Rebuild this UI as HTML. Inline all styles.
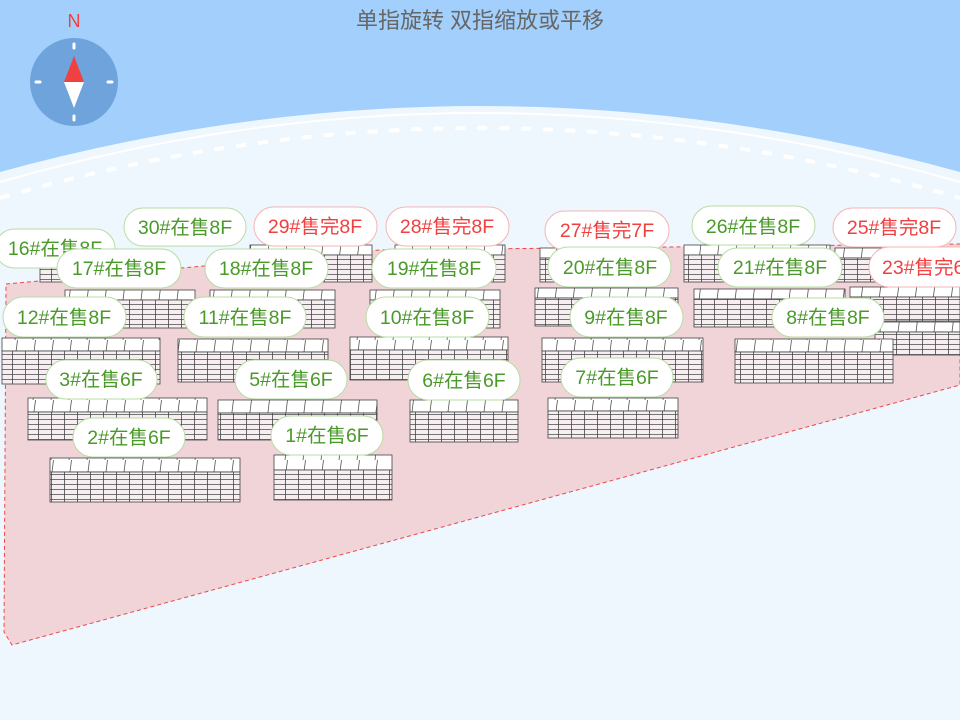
<!DOCTYPE html>
<html><head><meta charset="utf-8"><style>
html,body{margin:0;padding:0;width:960px;height:720px;overflow:hidden;background:#eef6fe}
svg{display:block}
text{font-family:"Liberation Sans","Noto Sans CJK SC",sans-serif}
</style></head><body>
<svg width="960" height="720" viewBox="0 0 960 720" xmlns="http://www.w3.org/2000/svg">
<defs>
<pattern id="fac" width="13" height="5" patternUnits="userSpaceOnUse">
<rect width="13" height="5" fill="#f6eef0"/>
<line x1="0" y1="4.5" x2="13" y2="4.5" stroke="#555" stroke-width="0.8"/>
<line x1="12.5" y1="0" x2="12.5" y2="5" stroke="#444" stroke-width="0.8"/>
</pattern>
<pattern id="top" width="18" height="20" patternUnits="userSpaceOnUse">
<rect width="18" height="20" fill="#fff"/>
<line x1="17.5" y1="0" x2="15" y2="20" stroke="#555" stroke-width="0.8"/>
</pattern>
</defs>
<rect width="960" height="720" fill="#eef6fe"/>
<path d="M0,0 H960 V172 Q480,40 0,172 Z" fill="#a2cffb"/>
<path d="M0,182 Q480,44 960,182" fill="none" stroke="#fff" stroke-width="2"/>
<path d="M0,198 Q480,58 960,198" fill="none" stroke="#fff" stroke-width="4" stroke-dasharray="10,12"/>
<polygon points="6,284 380,250 960,244 960,385 12,645 4,632" fill="#f0d4d8" stroke="#f04848" stroke-width="1" stroke-dasharray="4,3"/>
<g stroke="#444" stroke-width="0.8">
<rect x="40" y="245" width="70" height="10" fill="url(#top)"/><rect x="40" y="255" width="70" height="27" fill="url(#fac)"/>
<rect x="250" y="245" width="122" height="10" fill="url(#top)"/><rect x="250" y="255" width="122" height="27" fill="url(#fac)"/>
<rect x="395" y="245" width="110" height="10" fill="url(#top)"/><rect x="395" y="255" width="110" height="27" fill="url(#fac)"/>
<rect x="540" y="248" width="80" height="10" fill="url(#top)"/><rect x="540" y="258" width="80" height="24" fill="url(#fac)"/>
<rect x="684" y="245" width="146" height="10" fill="url(#top)"/><rect x="684" y="255" width="146" height="27" fill="url(#fac)"/>
<rect x="835" y="248" width="125" height="10" fill="url(#top)"/><rect x="835" y="258" width="125" height="24" fill="url(#fac)"/>
<rect x="65" y="290" width="130" height="10" fill="url(#top)"/><rect x="65" y="300" width="130" height="28" fill="url(#fac)"/>
<rect x="210" y="290" width="125" height="10" fill="url(#top)"/><rect x="210" y="300" width="125" height="28" fill="url(#fac)"/>
<rect x="370" y="290" width="130" height="10" fill="url(#top)"/><rect x="370" y="300" width="130" height="28" fill="url(#fac)"/>
<rect x="535" y="288" width="143" height="10" fill="url(#top)"/><rect x="535" y="298" width="143" height="28" fill="url(#fac)"/>
<rect x="694" y="289" width="151" height="10" fill="url(#top)"/><rect x="694" y="299" width="151" height="28" fill="url(#fac)"/>
<rect x="850" y="287" width="110" height="10" fill="url(#top)"/><rect x="850" y="297" width="110" height="24" fill="url(#fac)"/>
<rect x="875" y="322" width="85" height="10" fill="url(#top)"/><rect x="875" y="332" width="85" height="23" fill="url(#fac)"/>
<rect x="2" y="338" width="158" height="13" fill="url(#top)"/><rect x="2" y="351" width="158" height="33" fill="url(#fac)"/>
<rect x="178" y="339" width="150" height="13" fill="url(#top)"/><rect x="178" y="352" width="150" height="30" fill="url(#fac)"/>
<rect x="350" y="337" width="158" height="13" fill="url(#top)"/><rect x="350" y="350" width="158" height="30" fill="url(#fac)"/>
<rect x="542" y="338" width="161" height="13" fill="url(#top)"/><rect x="542" y="351" width="161" height="31" fill="url(#fac)"/>
<rect x="735" y="339" width="158" height="13" fill="url(#top)"/><rect x="735" y="352" width="158" height="31" fill="url(#fac)"/>
<rect x="28" y="398" width="179" height="14" fill="url(#top)"/><rect x="28" y="412" width="179" height="28" fill="url(#fac)"/>
<rect x="218" y="400" width="159" height="13" fill="url(#top)"/><rect x="218" y="413" width="159" height="27" fill="url(#fac)"/>
<rect x="410" y="400" width="108" height="12" fill="url(#top)"/><rect x="410" y="412" width="108" height="30" fill="url(#fac)"/>
<rect x="548" y="398" width="130" height="13" fill="url(#top)"/><rect x="548" y="411" width="130" height="27" fill="url(#fac)"/>
<rect x="50" y="458" width="190" height="14" fill="url(#top)"/><rect x="50" y="472" width="190" height="30" fill="url(#fac)"/>
<rect x="274" y="455" width="118" height="15" fill="url(#top)"/><rect x="274" y="470" width="118" height="30" fill="url(#fac)"/>
</g>
<g font-size="19.5" text-anchor="middle" stroke-width="1">
<g fill="#fff" stroke="#b8dca4">
<rect x="-5" y="229" width="120" height="39" rx="19.5"/>
<rect x="124" y="208" width="122" height="38" rx="19"/>
<rect x="692" y="206" width="123" height="39" rx="19.5"/>
</g>
<g fill="#fff" stroke="#f5b4b4">
<rect x="254" y="207" width="123" height="39" rx="19.5"/>
<rect x="386" y="207" width="123" height="39" rx="19.5"/>
<rect x="545" y="211" width="124" height="39" rx="19.5"/>
<rect x="833" y="208" width="123" height="39" rx="19.5"/>
</g>
<g fill="#4a9a2a"><text x="55" y="255">16#在售8F</text><text x="185" y="234">30#在售8F</text><text x="753" y="233">26#在售8F</text></g>
<g fill="#f04040"><text x="315" y="233">29#售完8F</text><text x="447" y="233">28#售完8F</text><text x="607" y="237">27#售完7F</text><text x="894" y="234">25#售完8F</text></g>
<g fill="#fff" stroke="#b8dca4">
<rect x="57" y="249" width="124" height="39" rx="19.5"/>
<rect x="205" y="249" width="123" height="39" rx="19.5"/>
<rect x="372" y="249" width="124" height="39" rx="19.5"/>
<rect x="548" y="247" width="123" height="40" rx="20"/>
<rect x="718" y="248" width="124" height="39" rx="19.5"/>
<rect x="3" y="297" width="123" height="40" rx="20"/>
<rect x="184" y="297" width="122" height="40" rx="20"/>
<rect x="366" y="297" width="123" height="40" rx="20"/>
<rect x="570" y="297" width="113" height="40" rx="20"/>
<rect x="772" y="298" width="112" height="39" rx="19.5"/>
<rect x="46" y="360" width="111" height="39" rx="19.5"/>
<rect x="235" y="360" width="112" height="39" rx="19.5"/>
<rect x="408" y="360" width="112" height="40" rx="20"/>
<rect x="561" y="358" width="112" height="39" rx="19.5"/>
<rect x="73" y="418" width="112" height="39" rx="19.5"/>
<rect x="271" y="416" width="112" height="39" rx="19.5"/>
</g>
<rect x="869" y="247" width="121" height="40" rx="20" fill="#fff" stroke="#f5b4b4"/>
<g fill="#4a9a2a">
<text x="119" y="275">17#在售8F</text><text x="266" y="275">18#在售8F</text><text x="434" y="275">19#在售8F</text>
<text x="610" y="274">20#在售8F</text><text x="780" y="274">21#在售8F</text>
<text x="64" y="324">12#在售8F</text><text x="245" y="324">11#在售8F</text><text x="427" y="324">10#在售8F</text>
<text x="626" y="324">9#在售8F</text><text x="828" y="324">8#在售8F</text>
<text x="101" y="386">3#在售6F</text><text x="291" y="386">5#在售6F</text><text x="464" y="387">6#在售6F</text><text x="617" y="384">7#在售6F</text>
<text x="129" y="444">2#在售6F</text><text x="327" y="442">1#在售6F</text>
</g>
<text x="882" y="274" fill="#f04040" text-anchor="start">23#售完6F</text>
</g>
<text x="480" y="28" font-size="22" fill="#666" text-anchor="middle">单指旋转 双指缩放或平移</text>
<circle cx="74" cy="82" r="44" fill="#6fa3dc"/>
<text x="74" y="27" font-size="18" fill="#f04040" text-anchor="middle">N</text>
<g stroke="#fff" stroke-width="3" stroke-linecap="round">
<line x1="74" y1="44" x2="74" y2="48"/><line x1="74" y1="116" x2="74" y2="120"/>
<line x1="36" y1="82" x2="40" y2="82"/><line x1="108" y1="82" x2="112" y2="82"/>
</g>
<polygon points="74,56 84,82 64,82" fill="#f04040"/>
<polygon points="74,108 84,82 64,82" fill="#fff"/>
</svg>
</body></html>
